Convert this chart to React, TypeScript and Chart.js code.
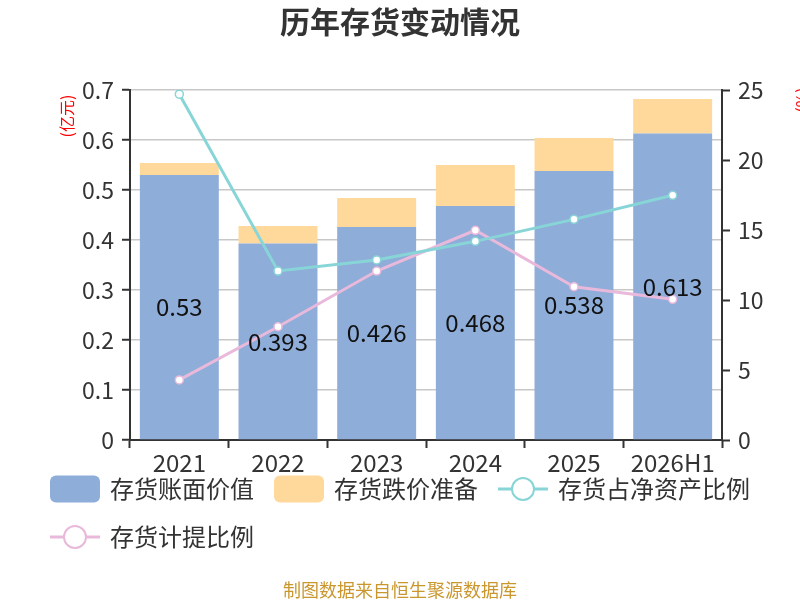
import { useEffect, useRef } from 'react';
import { Chart, registerables } from 'chart.js';

Chart.register(...registerables);

const FONT = '"Noto Sans CJK SC", "Noto Sans", sans-serif';

// values
const years = ['2021', '2022', '2023', '2024', '2025', '2026H1'];
const bookValue = [0.53, 0.393, 0.426, 0.468, 0.538, 0.613];
const impairment = [0.024, 0.035, 0.058, 0.082, 0.066, 0.069];
const shareOfNetAssets = [24.7, 12.07, 12.86, 14.19, 15.76, 17.48];
const provisionRatio = [4.29, 8.09, 12.07, 14.98, 10.95, 10.05];

const BLUE = '#8eadd9';
const YELLOW = '#fed99b';
const CYAN = '#88d5d8';
const PINK = '#e8b9da';

// labels in the middle of the book-value bars
const barLabels = {
  id: 'barLabels',
  afterDraw(chart: any) {
    const ctx = chart.ctx;
    const meta = chart.getDatasetMeta(0);
    ctx.save();
    ctx.font = `24px ${FONT}`;
    ctx.fillStyle = '#111';
    ctx.textAlign = 'center';
    ctx.textBaseline = 'middle';
    meta.data.forEach((bar: any, i: number) => {
      ctx.fillText(String(bookValue[i]), bar.x, (bar.y + bar.base) / 2);
    });
    ctx.restore();
  },
};

// title, axis units, legend and footer
const decorations = {
  id: 'decorations',
  afterDraw(chart: any) {
    const ctx = chart.ctx;
    const w = chart.width;
    ctx.save();
    ctx.fillStyle = '#333';
    ctx.textAlign = 'center';
    ctx.textBaseline = 'middle';
    ctx.font = `bold 30px ${FONT}`;
    ctx.fillText('历年存货变动情况', w / 2, 22);

    ctx.fillStyle = '#ff0000';
    ctx.font = `16px ${FONT}`;
    ctx.save();
    ctx.translate(67, 116);
    ctx.rotate(-Math.PI / 2);
    ctx.fillText('(亿元)', 0, 0);
    ctx.restore();
    ctx.save();
    ctx.translate(802, 100);
    ctx.rotate(-Math.PI / 2);
    ctx.fillText('(%)', 0, 0);
    ctx.restore();

    // legend
    ctx.font = `24px ${FONT}`;
    ctx.textAlign = 'left';
    const iconW = 50;
    const textGap = 10;
    const items = chart.data.datasets.map((d: any) => ({
      label: d.label,
      type: d.type,
      color: d.type === 'line' ? d.borderColor : d.backgroundColor,
      width: iconW + textGap + ctx.measureText(d.label).width,
    }));
    const gap = 20;
    const maxW = w - 60;
    const rows: any[][] = [[]];
    let rowW = 0;
    items.forEach((it: any) => {
      const add = (rows[rows.length - 1].length ? gap : 0) + it.width;
      if (rowW + add > maxW && rows[rows.length - 1].length) {
        rows.push([it]);
        rowW = it.width;
      } else {
        rows[rows.length - 1].push(it);
        rowW += add;
      }
    });
    const firstW = rows[0].reduce((s, it, i) => s + it.width + (i ? gap : 0), 0);
    const startX = (w - firstW) / 2;
    rows.forEach((row, r) => {
      let x = startX;
      const y = 489 + r * 48;
      row.forEach((it: any) => {
        if (it.type === 'line') {
          ctx.strokeStyle = it.color;
          ctx.lineWidth = 3;
          ctx.beginPath();
          ctx.moveTo(x, y);
          ctx.lineTo(x + iconW, y);
          ctx.stroke();
          ctx.beginPath();
          ctx.arc(x + iconW / 2, y, 11, 0, Math.PI * 2);
          ctx.fillStyle = '#fff';
          ctx.fill();
          ctx.lineWidth = 2;
          ctx.stroke();
        } else {
          ctx.fillStyle = it.color;
          ctx.beginPath();
          ctx.roundRect(x, y - 13.5, iconW, 27, 6);
          ctx.fill();
        }
        ctx.fillStyle = '#333';
        ctx.fillText(it.label, x + iconW + textGap, y);
        x += it.width + gap;
      });
    });

    ctx.textAlign = 'center';
    ctx.fillStyle = '#c9972e';
    ctx.font = `18px ${FONT}`;
    ctx.fillText('制图数据来自恒生聚源数据库', w / 2, 590);
    ctx.restore();
  },
};

export default function App() {
  const canvasRef = useRef<HTMLCanvasElement>(null);

  useEffect(() => {
    if (!canvasRef.current) return;
    Chart.defaults.font.family = FONT;

    const chart = new Chart(canvasRef.current, {
      type: 'bar',
      data: {
        labels: years,
        datasets: [
          {
            type: 'bar',
            label: '存货账面价值',
            data: bookValue,
            backgroundColor: BLUE,
            yAxisID: 'y',
            order: 2,
            barPercentage: 0.8,
            categoryPercentage: 1,
          },
          {
            type: 'bar',
            label: '存货跌价准备',
            data: impairment,
            backgroundColor: YELLOW,
            yAxisID: 'y',
            order: 2,
            barPercentage: 0.8,
            categoryPercentage: 1,
          },
          {
            type: 'line',
            label: '存货占净资产比例',
            data: shareOfNetAssets,
            borderColor: CYAN,
            borderWidth: 3,
            pointRadius: 4,
            pointBackgroundColor: '#fff',
            pointBorderColor: CYAN,
            pointBorderWidth: 1.5,
            yAxisID: 'y1',
            order: 1,
          },
          {
            type: 'line',
            label: '存货计提比例',
            data: provisionRatio,
            borderColor: PINK,
            borderWidth: 3,
            pointRadius: 4,
            pointBackgroundColor: '#fff',
            pointBorderColor: PINK,
            pointBorderWidth: 1.5,
            yAxisID: 'y1',
            order: 1,
          },
        ] as any,
      },
      options: {
        responsive: false,
        animation: false,
        layout: { padding: { top: 90, left: 0, right: 0, bottom: 0 } },
        plugins: {
          legend: { display: false },
          title: { display: false },
          tooltip: { enabled: false },
        },
        scales: {
          x: {
            stacked: true,
            afterFit: (s: any) => { s.height = 160; },
            border: { color: '#333', width: 2 },
            grid: {
              offset: true,
              drawOnChartArea: false,
              tickLength: 8,
              tickColor: '#333',
              tickWidth: 2,
            },
            ticks: { color: '#333', font: { size: 24 }, padding: 0, maxRotation: 0, autoSkip: false },
          },
          y: {
            stacked: true,
            position: 'left',
            min: 0,
            max: 0.7,
            afterFit: (s: any) => { s.width = 130; },
            border: { color: '#333', width: 2 },
            grid: {
              color: '#c8c8c8',
              lineWidth: 1.5,
              tickLength: 8,
              tickColor: '#333',
              tickWidth: 2,
            },
            ticks: {
              stepSize: 0.1,
              color: '#333',
              font: { size: 23 },
              padding: 8,
              callback: (v: any) => (v === 0 ? '0' : Number(v).toFixed(1)),
            },
          },
          y1: {
            position: 'right',
            min: 0,
            max: 25,
            afterFit: (s: any) => { s.width = 78; },
            border: { color: '#333', width: 2 },
            grid: {
              drawOnChartArea: false,
              tickLength: 8,
              tickColor: '#333',
              tickWidth: 2,
            },
            ticks: { stepSize: 5, color: '#333', font: { size: 23 }, padding: 8 },
          },
        },
      },
      plugins: [barLabels, decorations],
    });

    return () => chart.destroy();
  }, []);

  return (
    <div style={{ position: 'absolute', left: 0, top: 0, width: 800, height: 600 }}>
      <canvas ref={canvasRef} width={800} height={600} style={{ width: 800, height: 600 }} />
    </div>
  );
}
